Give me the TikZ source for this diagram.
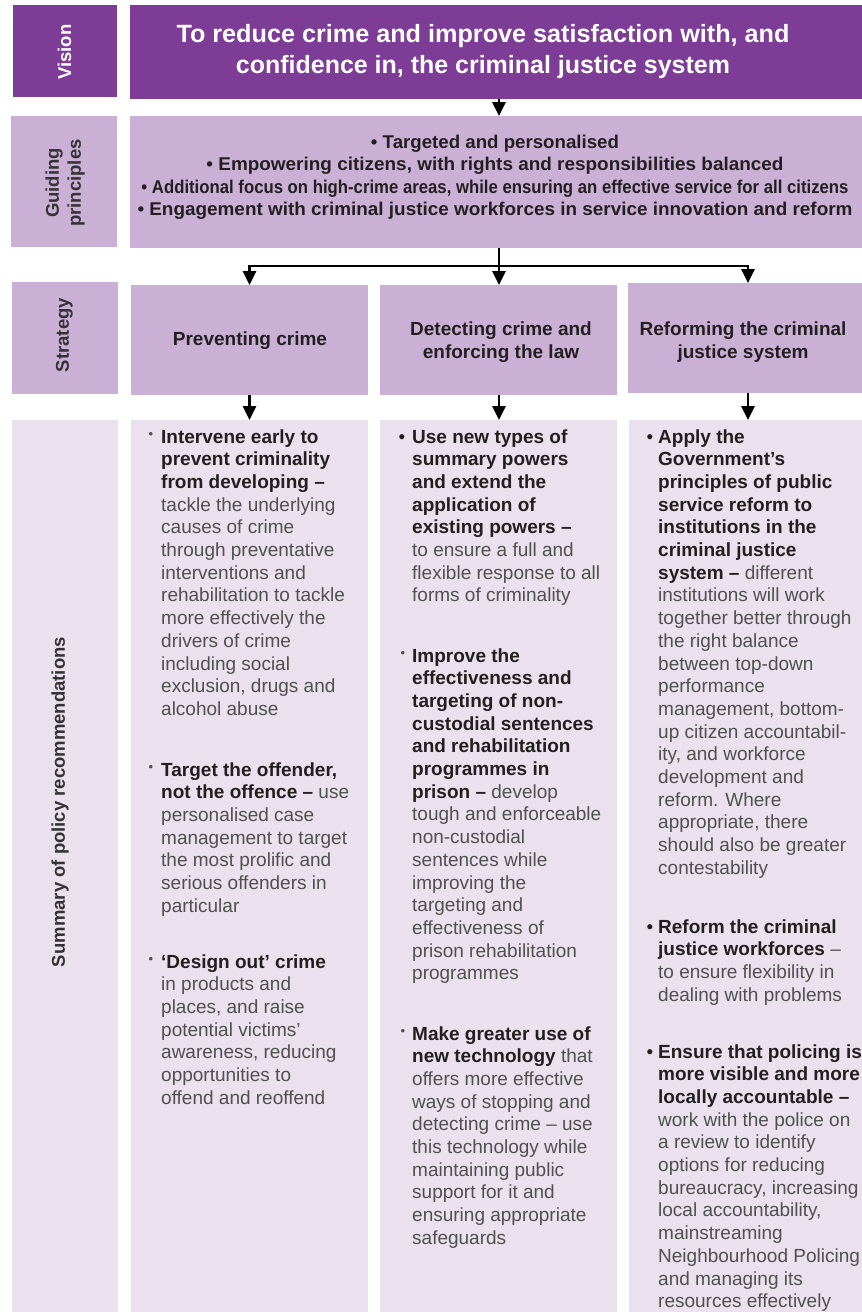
\documentclass[tikz,border=0pt]{standalone}
\usepackage{fontspec}
\setmainfont{Liberation Sans}
\usepackage{graphicx}
\usetikzlibrary{arrows.meta,calc}
\definecolor{dpurp}{HTML}{7D3C96}
\definecolor{lpurp}{HTML}{CBB0D6}
\definecolor{vlpurp}{HTML}{EAE0EE}
\definecolor{bodyc}{HTML}{505050}
\definecolor{headc}{HTML}{231F20}
\definecolor{labc}{HTML}{333333}
\newcommand{\fs}[2]{\fontsize{#1}{#2}\selectfont}
\newcommand{\hd}[1]{{\color{headc}\bfseries #1}}
\newcommand{\rbul}{\leavevmode\llap{\raisebox{5pt}{\fs{13}{13}•}\hspace{8pt}}}
\newcommand{\rbulb}{\leavevmode\llap{\raisebox{5pt}{\fs{13}{13}•}\hspace{7pt}}}
\newcommand{\nbulb}{\leavevmode\llap{\color{headc}•\hspace{7pt}}}
\newcommand{\nbulc}{\leavevmode\llap{\color{headc}•\hspace{5pt}}}
\begin{document}
\begin{tikzpicture}[x=1pt,y=-1pt,
  box/.style={anchor=north west,inner sep=0pt,outer sep=0pt,draw=none},
  dbox/.style={box,fill=dpurp},
  lbox/.style={box,fill=lpurp},
  vbox/.style={box,fill=vlpurp},
  sidelab/.style={rotate=90,inner sep=0pt,align=center,font=\fs{18.5}{22}\bfseries,text=labc},
  para/.style={anchor=base west,inner sep=0pt,font=\fs{19}{22.7},text=bodyc},
  strat/.style={anchor=base,inner sep=0pt,font=\fs{19}{23}\bfseries,text=headc,align=center},
  conn/.style={draw=black,line width=2.6pt},
  arr/.style={conn,-{Triangle[length=14pt,width=13pt]}}
]
\useasboundingbox[fill=white] (0,0) rectangle (862,1312);

% ---- boxes ----
\node[dbox,minimum width=104pt,minimum height=92pt] (visL) at (13,5) {};
\node[dbox,minimum width=732pt,minimum height=94pt] (vis) at (130,5) {};
\node[lbox,minimum width=106pt,minimum height=131pt] (guiL) at (11,116) {};
\node[lbox,minimum width=732pt,minimum height=132pt] (gui) at (130,116) {};
\node[lbox,minimum width=106pt,minimum height=112pt] (strL) at (12,282) {};
\node[lbox,minimum width=237pt,minimum height=110pt] (prev) at (131,285) {};
\node[lbox,minimum width=237pt,minimum height=110pt] (det) at (380,285) {};
\node[lbox,minimum width=234pt,minimum height=110pt] (ref) at (628,283) {};
\node[vbox,minimum width=106pt,minimum height=892pt] (recL) at (12,420) {};
\node[vbox,minimum width=237pt,minimum height=892pt] (rec1) at (131,420) {};
\node[vbox,minimum width=237pt,minimum height=892pt] (rec2) at (380,420) {};
\node[vbox,minimum width=233pt,minimum height=892pt] (rec3) at (629,420) {};

% ---- side labels ----
\node[sidelab,text=white] (tVis) at (64.5,52) {Vision};
\node[sidelab] (tGui) at (65,183) {Guiding\\principles};
\node[sidelab] (tStr) at (64.5,335) {Strategy};
\node[sidelab] (tRec) at (60,802) {Summary of policy recommendations};

% ---- vision text ----
\node[anchor=base,inner sep=0pt,text=white,font=\fs{25}{31}\bfseries] (tVision) at (483,42)
 {\parbox[t]{720pt}{\centering
 \resizebox{613pt}{\height}{To reduce crime and improve satisfaction with, and}\\
 \resizebox{494pt}{\height}{confidence in, the criminal justice system}}};

% ---- guiding principles text ----
\node[anchor=base,inner sep=0pt,text=headc,font=\fs{18.5}{22.6}\bfseries] (tPrin) at (495,148)
 {\parbox[t]{730pt}{\centering
 \resizebox{248pt}{\height}{• Targeted and personalised}\\
 \resizebox{577pt}{\height}{• Empowering citizens, with rights and responsibilities balanced}\\
 \resizebox{707pt}{\height}{• Additional focus on high-crime areas, while ensuring an effective service for all citizens}\\
 \resizebox{715pt}{\height}{• Engagement with criminal justice workforces in service innovation and reform}}};

% ---- strategy text ----
\node[strat] (tPrev) at (250,345) {Preventing crime};
\node[strat] (tDet) at (501,335) {\parbox[t]{230pt}{\centering Detecting crime and\\enforcing the law}};
\node[strat] (tRef) at (743,335) {\parbox[t]{230pt}{\centering Reforming the criminal\\justice system}};

% ---- connectors ----
\coordinate (split) at (499,266);
\draw[arr] (vis.south -| split) -- (gui.north -| split);
\draw[arr] (gui.south -| split) -- (det.north -| split);
\draw[arr] (split) -| (prev.north);
\draw[arr] (split) -| ($(ref.north)+(3,0)$);
\draw[arr] (prev.south) -- (rec1.north -| prev.south);
\draw[arr] (det.south -| split) -- (rec2.north -| split);
\draw[arr] ($(ref.south)+(3,0)$) -- ($(rec3.north -| ref.south)+(3,0)$);

% ---- column 1 ----
\node[para] (c1a) at (161,443) {\parbox[t]{260pt}{\raggedright\rbul\hd{Intervene early to\\prevent criminality\\from developing –}\\tackle the underlying\\causes of crime\\through preventative\\interventions and\\rehabilitation to tackle\\more effectively the\\drivers of crime\\including social\\exclusion, drugs and\\alcohol abuse}};
\node[para] (c1b) at (161,776) {\parbox[t]{260pt}{\raggedright\rbul\hd{Target the offender,\\not the offence –} use\\personalised case\\management to target\\the most prolific and\\serious offenders in\\particular}};
\node[para] (c1c) at (161,968) {\parbox[t]{260pt}{\raggedright\rbul\hd{‘Design out’ crime}\\in products and\\places, and raise\\potential victims’\\awareness, reducing\\opportunities to\\offend and reoffend}};

% ---- column 2 ----
\node[para] (c2a) at (412,443) {\parbox[t]{260pt}{\raggedright\nbulb\hd{Use new types of\\summary powers\\and extend the\\application of\\existing powers –}\\to ensure a full and\\flexible response to all\\forms of criminality}};
\node[para] (c2b) at (412,662) {\parbox[t]{260pt}{\raggedright\rbulb\hd{Improve the\\effectiveness and\\targeting of non-\\custodial sentences\\and rehabilitation\\programmes in\\prison –} develop\\tough and enforceable\\non-custodial\\sentences while\\improving the\\targeting and\\effectiveness of\\prison rehabilitation\\programmes}};
\node[para] (c2c) at (412,1040) {\parbox[t]{260pt}{\raggedright\rbulb\hd{Make greater use of\\new technology} that\\offers more effective\\ways of stopping and\\detecting crime – use\\this technology while\\maintaining public\\support for it and\\ensuring appropriate\\safeguards}};

% ---- column 3 ----
\node[para] (c3a) at (658,443) {\parbox[t]{260pt}{\raggedright\nbulc\hd{Apply the\\Government’s\\principles of public\\service reform to\\institutions in the\\criminal justice\\system –} different\\institutions will work\\together better through\\the right balance\\between top-down\\performance\\management, bottom-\\up citizen accountabil-\\ity, and workforce\\development and\\reform. Where\\appropriate, there\\should also be greater\\contestability}};
\node[para] (c3b) at (658,933) {\parbox[t]{260pt}{\raggedright\nbulc\hd{Reform the criminal\\justice workforces} –\\to ensure flexibility in\\dealing with problems}};
\node[para] (c3c) at (658,1058) {\parbox[t]{260pt}{\raggedright\nbulc\hd{Ensure that policing is\\more visible and more\\locally accountable –}\\work with the police on\\a review to identify\\options for reducing\\bureaucracy, increasing\\local accountability,\\mainstreaming\\Neighbourhood Policing\\and managing its\\resources effectively}};
\end{tikzpicture}
\end{document}
